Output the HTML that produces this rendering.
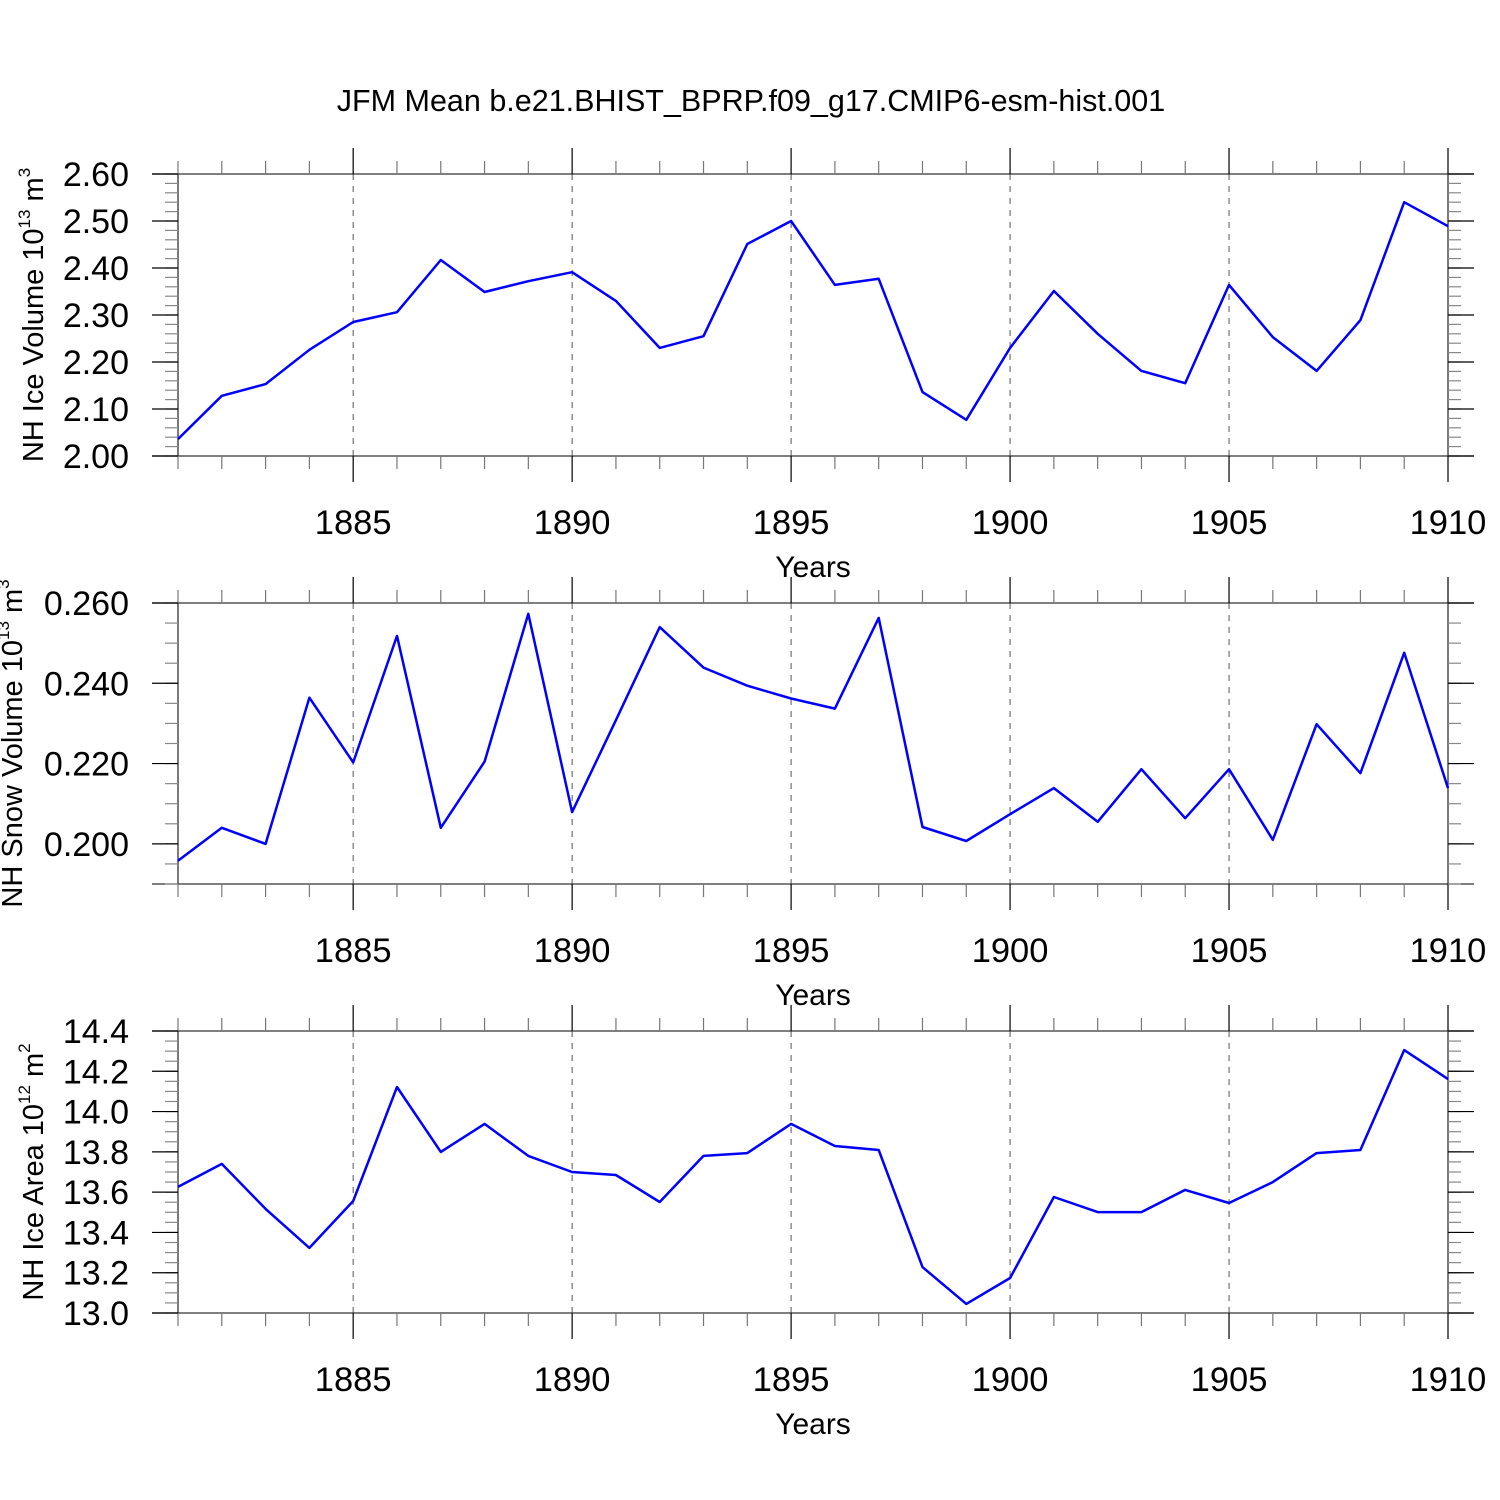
<!DOCTYPE html>
<html><head><meta charset="utf-8"><style>
body{margin:0;background:#fff;}
svg{display:block;font-family:"Liberation Sans",sans-serif;}
</style></head><body>
<svg id="c" width="1500" height="1500">
<text x="751" y="111" font-size="30.5" text-anchor="middle">JFM Mean b.e21.BHIST_BPRP.f09_g17.CMIP6-esm-hist.001</text>
</svg>
<script>
const years=[1881,1882,1883,1884,1885,1886,1887,1888,1889,1890,1891,1892,1893,1894,1895,1896,1897,1898,1899,1900,1901,1902,1903,1904,1905,1906,1907,1908,1909,1910];
const iceVolume=[2.036,2.128,2.153,2.226,2.285,2.306,2.417,2.349,2.372,2.391,2.330,2.230,2.255,2.451,2.500,2.364,2.377,2.136,2.077,2.230,2.351,2.260,2.181,2.155,2.364,2.253,2.181,2.289,2.540,2.489];
const snowVolume=[0.1958,0.2040,0.2000,0.2364,0.2203,0.2518,0.2040,0.2205,0.2573,0.2079,0.2308,0.2540,0.2439,0.2394,0.2362,0.2337,0.2563,0.2042,0.2007,0.2074,0.2139,0.2055,0.2186,0.2064,0.2186,0.2010,0.2298,0.2176,0.2476,0.2139];
const iceArea=[13.626,13.740,13.517,13.323,13.556,14.122,13.800,13.939,13.780,13.700,13.685,13.551,13.780,13.794,13.939,13.829,13.809,13.228,13.045,13.174,13.576,13.501,13.501,13.611,13.546,13.650,13.794,13.809,14.305,14.161];
const xTicks=[1885,1890,1895,1900,1905,1910];
const iceVolTicks=["2.00","2.10","2.20","2.30","2.40","2.50","2.60"];
const snowTicks=["0.200","0.220","0.240","0.260"];
const areaTicks=["13.0","13.2","13.4","13.6","13.8","14.0","14.2","14.4"];

const svg=document.getElementById('c');
const NS='http://www.w3.org/2000/svg';
function el(tag,attrs,parent){const e=document.createElementNS(NS,tag);for(const k in attrs)e.setAttribute(k,attrs[k]);(parent||svg).appendChild(e);return e;}
const X0=178,X1=1448;
function xs(y){return X0+(y-1881)/(1910-1881)*(X1-X0);}

function panel(name,top,bot,ymin,ymax,minorStep,ticks,data,labelParts){
  const g=el('g',{});
  
  
  const ys=v=>bot-(v-ymin)/(ymax-ymin)*(bot-top);
  xTicks.forEach(t=>{if(t<1910){const l=el('line',{x1:xs(t),x2:xs(t),y1:top,y2:bot,stroke:'#555','stroke-width':1,'stroke-dasharray':'6,6'},g);
    }});
  el('line',{x1:152,x2:1474,y1:top,y2:top,stroke:'#333','stroke-width':1.3},g);
  el('line',{x1:152,x2:1474,y1:bot,y2:bot,stroke:'#333','stroke-width':1.3},g);
  el('line',{x1:X0,x2:X0,y1:top,y2:bot,stroke:'#333','stroke-width':1.3},g);
  el('line',{x1:X1,x2:X1,y1:top,y2:bot,stroke:'#333','stroke-width':1.3},g);
  years.forEach(y=>{const maj=y%5===0;const L=maj?26:13;const x=xs(y);
    el('line',{x1:x,x2:x,y1:top-L,y2:top,stroke:maj?'#000':'#777','stroke-width':1.2},g);
    el('line',{x1:x,x2:x,y1:bot,y2:bot+L,stroke:maj?'#000':'#777','stroke-width':1.2},g);});
  xTicks.forEach(t=>{const tx=el('text',{x:xs(t),y:bot+78,'font-size':34.5,'text-anchor':'middle'},g);tx.textContent=t;
    });
  const xl=el('text',{x:813,y:bot+121,'font-size':30,'text-anchor':'middle'},g);xl.textContent='Years';
  
  const n=Math.round((ymax-ymin)/minorStep);
  for(let i=0;i<=n;i++){const y=ys(ymin+i*minorStep);
    el('line',{x1:X0-13,x2:X0,y1:y,y2:y,stroke:'#888','stroke-width':1.2},g);
    el('line',{x1:X1,x2:X1+13,y1:y,y2:y,stroke:'#888','stroke-width':1.2},g);}
  ticks.forEach(t=>{const y=ys(parseFloat(t));
    el('line',{x1:X0-26,x2:X0,y1:y,y2:y,stroke:'#000','stroke-width':1.2},g);
    el('line',{x1:X1,x2:X1+26,y1:y,y2:y,stroke:'#000','stroke-width':1.2},g);
    const tx=el('text',{x:129,y:y+12,'font-size':34,'text-anchor':'end'},g);tx.textContent=t;
    });
  const pts=years.map((y,i)=>xs(y).toFixed(1)+','+ys(data[i]).toFixed(1)).join(' ');
  const pl=el('polyline',{points:pts,fill:'none',stroke:'#0000ff','stroke-width':2.5,'stroke-linejoin':'round'},g);
  
  const cy=(top+bot)/2;
  const yl=el('text',{x:labelParts.x,y:cy,'font-size':29,'text-anchor':'middle',transform:`rotate(-90 ${labelParts.x} ${cy})`},g);
  
  const a=el('tspan',{},yl);a.textContent=labelParts.a+' 10';
  const s1=el('tspan',{'font-size':17,dy:-13},yl);s1.textContent=labelParts.e;
  const b=el('tspan',{dy:13},yl);b.textContent=' m';
  const s2=el('tspan',{'font-size':17,dy:-13},yl);s2.textContent=labelParts.p;
}
panel('ice-volume',174,456,2.0,2.6,0.02,iceVolTicks,iceVolume,{x:43,a:'NH Ice Volume',e:'13',p:'3'});
panel('snow-volume',603,884,0.19,0.26,0.005,snowTicks,snowVolume,{x:22,a:'NH Snow Volume',e:'13',p:'3'});
panel('ice-area',1031,1313,13.0,14.4,0.05,areaTicks,iceArea,{x:43,a:'NH Ice Area',e:'12',p:'2'});
</script>
</body></html>
